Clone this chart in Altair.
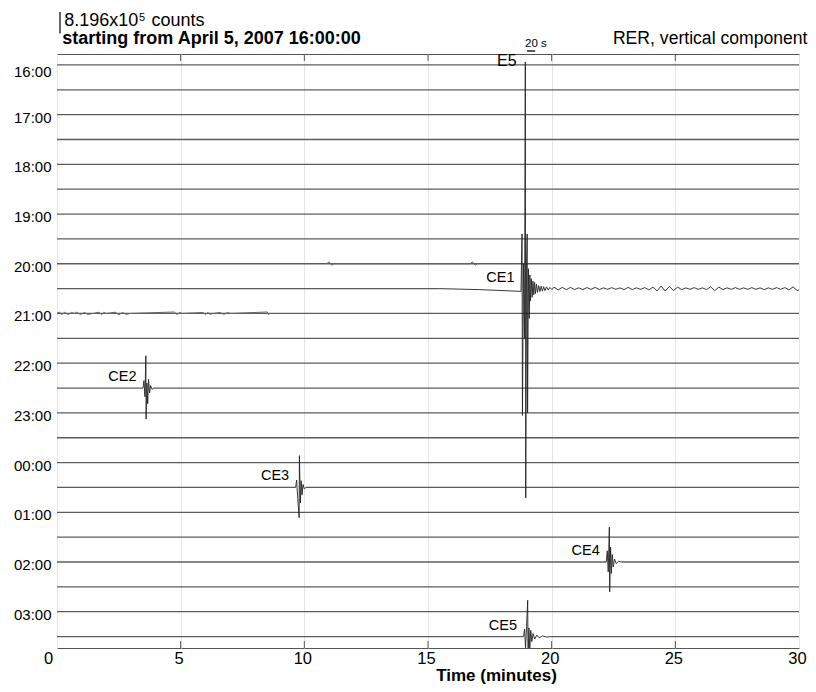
import json
import pandas as pd
import altair as alt

FONT = "Liberation Sans"

# ---------------- data ----------------
hour_labels = ["16:00", "17:00", "18:00", "19:00", "20:00", "21:00",
               "22:00", "23:00", "00:00", "01:00", "02:00", "03:00"]
row_count = 24                      # half-hour traces 16:00 ... 03:30
trace_start, trace_end = 0, 30      # minutes covered by each trace
x_tick_values = [0, 5, 10, 15, 20, 25, 30]
inner_ticks = [5, 10, 15, 20, 25]

event_names = ["CE1", "CE2", "CE3", "CE4", "CE5"]
event_rows = [9, 13, 17, 20, 23]
event_onsets = [18.76, 3.476, 9.648, 22.207, 18.864]   # minutes

# waveforms: seconds after onset, amplitude in trace spacings (+ = downward)
ce1_sec = [-200, -100, -1.5, 0, 2.5, 3.5, 6, 8.5, 10.5, 11.5, 13.5, 15, 16, 18,
           20, 21.5, 23, 25, 27, 29, 31, 33, 35, 37.5, 40, 43, 46, 49, 52, 55,
           58, 62, 66, 70, 75]
ce1_amp = [0, 0.04, 0.11, 0.12, -2.2, 5.1, -1.0, 2.0, -9.12, 8.42, -1.0, -2.2,
           5.0, -0.8, 1.2, -0.55, 0.5, -0.4, 0.35, -0.3, 0.25, -0.25, 0.2, -0.18,
           0.15, -0.12, 0.12, -0.1, 0.1, -0.08, 0.08, -0.07, 0.06, -0.05, 0.04]
ce1_coda_sec = list(range(80, 680, 10)) + [680]
ce1_coda_amp = [-0.06, 0.05, -0.05, 0.04, -0.05, 0.04, -0.03, 0.04, -0.04, 0.03,
                -0.05, 0.04, -0.03, 0.03, -0.04, 0.03, -0.03, 0.04, -0.05, 0.04,
                -0.03, 0.03, -0.04, 0.05, -0.06, 0.09, -0.10, 0.10, -0.09, 0.08,
                -0.06, 0.04, -0.03, 0.03, -0.04, 0.03, -0.03, 0.04, -0.07, 0.08,
                -0.06, 0.04, -0.03, 0.03, -0.04, 0.03, -0.03, 0.03, -0.04, 0.03,
                -0.03, 0.04, -0.03, 0.03, -0.04, 0.03, -0.04, 0.05, -0.07, 0.08,
                0.0]

ce2_sec = [0, 2.4, 4.8, 7, 7.6, 9.6, 11.5, 13.5, 16, 18.5, 22, 26]
ce2_amp = [0, -0.3, 0.35, -1.3, 1.25, -0.2, 0.63, -0.35, 0.2, -0.1, 0.05, 0]

ce3_sec = [0, 2.4, 4.8, 8.5, 9.2, 11.5, 13.5, 15.5, 18, 21, 25]
ce3_amp = [0, -0.3, 0.35, 1.22, -1.28, 0.62, -0.27, 0.3, -0.12, 0.06, 0]

ce4_sec = [0, 2.4, 4.8, 7.5, 8.3, 10.5, 12.5, 14.5, 17, 20, 24, 30, 38]
ce4_amp = [0, -0.45, 0.4, -1.4, 1.2, -0.6, 0.46, -0.3, 0.2, -0.12, 0.06, -0.03, 0]

ce5_sec = [0, 2.4, 4.8, 7.2, 10, 10.8, 13, 15, 17.5, 20, 23, 27, 32, 38, 46, 56, 66]
ce5_amp = [0, -0.3, 0.45, -0.4, -1.46, 1.0, -0.35, 0.5, -0.25, 0.2, -0.12, 0.1,
           -0.06, 0.05, -0.03, 0.02, 0]

# small background wiggles (row, minute, amplitude)
noise_row = [10] * 37 + [8] * 8
noise_t = [0.0, 0.1, 0.2, 0.3, 0.45, 0.6, 0.7, 0.8, 0.95, 1.1, 1.25, 1.45, 1.7,
           1.8, 1.9, 2.0, 2.35, 2.5, 2.65, 2.8, 2.95, 4.75, 4.85, 4.95, 5.05,
           5.9, 6.0, 6.1, 6.2, 6.3, 6.6, 6.75, 6.9, 7.0, 8.5, 8.55, 8.6,
           10.9, 11.0, 11.1, 11.2, 16.7, 16.8, 16.9, 17.0]
noise_amp = [0, -0.06, 0.05, -0.05, 0.04, -0.04, 0, -0.05, 0.05, -0.04, 0.04, 0,
             -0.05, 0.05, -0.04, 0, -0.05, 0.05, -0.04, 0.04, 0, -0.06, 0.05,
             -0.05, 0, -0.04, 0.04, -0.04, 0.04, 0, -0.04, 0.04, -0.04, 0, -0.06,
             0.05, 0,
             0, -0.08, 0.06, 0, 0, -0.08, 0.06, 0]

scale_bar_seconds = 20
scale_bar_start = 19.0   # minutes

# ---------------- tables built from the lists ----------------
waves = {
    "CE1": (ce1_sec + ce1_coda_sec, ce1_amp + ce1_coda_amp),
    "CE2": (ce2_sec, ce2_amp),
    "CE3": (ce3_sec, ce3_amp),
    "CE4": (ce4_sec, ce4_amp),
    "CE5": (ce5_sec, ce5_amp),
}
recs = []
extent = {}
for name, row, onset in zip(event_names, event_rows, event_onsets):
    secs, amps = waves[name]
    ts = [onset + s / 60.0 for s in secs]
    extent[row] = (min(ts), max(ts))
    for i, (t, a) in enumerate(zip(ts, amps)):
        recs.append({"event": name, "seq": i, "t": t, "y": row + a})
wave_df = pd.DataFrame(recs)

noise_df = pd.DataFrame({"row": noise_row, "t": noise_t,
                         "y": [r + a for r, a in zip(noise_row, noise_amp)],
                         "seq": list(range(len(noise_t)))})

# quiet baseline segments: the trace outside the drawn waveforms
segs = []
for r in range(row_count):
    if r in extent:
        a, b = extent[r]
        if a > trace_start:
            segs.append({"row": r, "t": trace_start, "t1": a})
        if b < trace_end:
            segs.append({"row": r, "t": b, "t1": trace_end})
    else:
        segs.append({"row": r, "t": trace_start, "t1": trace_end})
rows_df = pd.DataFrame(segs)

labels_df = pd.DataFrame({"event": event_names, "t": event_onsets, "row": event_rows})
ticks_df = pd.DataFrame({"t": inner_ticks})
bar_df = pd.DataFrame({"t": [scale_bar_start],
                       "t1": [scale_bar_start + scale_bar_seconds / 60.0]})

W, H = 742, 594

x_scale = alt.Scale(domain=[0, 30], nice=False, zero=False)
y_scale = alt.Scale(domain=[-0.44, 23.46], reverse=True, nice=False, zero=False)
x_axis = alt.Axis(values=x_tick_values, title="Time (minutes)", titleFontWeight="bold",
                  titleFontSize=17, titleX=439, titleY=32, titleAlign="center",
                  titleBaseline="alphabetic", labelFontSize=16.5, labelPadding=2,
                  labelOffset={"condition": {"test": "datum.value == 0", "value": -9},
                               "value": -2},
                  ticks=False, domain=False, grid=True, gridColor="#e6e6e6",
                  labelFlush=False)
y_axis = alt.Axis(values=list(range(0, 24, 2)),
                  labelExpr=json.dumps(hour_labels) + "[round(datum.value / 2)]",
                  title=None, ticks=False, tickSize=0, domain=False, grid=False,
                  labelFontSize=15, labelPadding=6,
                  labelOffset={"condition": {"test": "datum.value == 0", "value": 7},
                               "value": 2.5})


def X(f):
    return alt.X(f, type="quantitative", scale=x_scale, axis=x_axis)


def Y(f):
    return alt.Y(f, type="quantitative", scale=y_scale, axis=y_axis)


baselines = alt.Chart(rows_df).mark_rule(color="#5c5c5c", strokeWidth=1.3).encode(
    x=X("t"), x2="t1", y=Y("row"))

noise = alt.Chart(noise_df).mark_line(color="#666666", strokeWidth=1.0).encode(
    x=X("t"), y=Y("y"), detail="row:N", order="seq:Q")

traces = alt.Chart(wave_df).mark_line(color="#222222", strokeWidth=0.9, clip=True).encode(
    x=X("t"), y=Y("y"), detail="event:N", order="seq:Q")

ev_labels = alt.Chart(labels_df).mark_text(
    align="right", baseline="alphabetic", dx=-6.5, dy=-7, fontSize=14.5, font=FONT,
    color="black").encode(x=X("t"), y=Y("row"), text="event:N")

top_ticks = alt.Chart(ticks_df).mark_rule(color="#555", strokeWidth=1).encode(
    x=X("t"), y=alt.value(0), y2=alt.value(7))
bottom_ticks = alt.Chart(ticks_df).mark_rule(color="#555", strokeWidth=1).encode(
    x=X("t"), y=alt.value(H - 7), y2=alt.value(H))

sec_bar = alt.Chart(bar_df).mark_rule(color="black", strokeWidth=1.3).encode(
    x=X("t"), x2="t1", y=alt.value(-3))


def note(text, **kw):
    xpos = kw.pop("xpos")
    ypos = kw.pop("ypos")
    return alt.Chart(pd.DataFrame({"s": [text]})).mark_text(
        font=FONT, color="black", baseline="alphabetic", **kw).encode(
        x=alt.value(xpos), y=alt.value(ypos), text="s:N")


counts_bar = alt.Chart(pd.DataFrame({"s": [1]})).mark_rule(
    color="black", strokeWidth=1.2).encode(
    x=alt.value(3), y=alt.value(-42), y2=alt.value(-20.5))

notes = [
    note("8.196x10", xpos=7.3, ypos=-28, align="left", fontSize=18),
    note("5", xpos=82, ypos=-33.5, align="left", fontSize=11),
    note("counts", xpos=94.4, ypos=-28, align="left", fontSize=18),
    note("starting from April 5, 2007 16:00:00", xpos=5.3, ypos=-9.7, align="left",
         fontSize=18, fontWeight="bold"),
    note("RER, vertical component", xpos=750.5, ypos=-9.7, align="right", fontSize=17.6),
    note("20 s", xpos=468, ypos=-7.5, align="left", fontSize=11.5),
    note("E5", xpos=440, ypos=12, align="left", fontSize=16),
]

chart = alt.layer(
    baselines, noise, traces, ev_labels, top_ticks, bottom_ticks, sec_bar,
    counts_bar, *notes
).properties(
    width=W, height=H,
    autosize=alt.AutoSizeParams(type="none"),
    padding={"left": 49, "top": 46, "right": 9, "bottom": 36},
).configure_view(
    stroke="#555", strokeWidth=1
).configure_axis(
    labelFont=FONT, titleFont=FONT, labelColor="black", titleColor="black"
)

chart.save("out.html", embed_options={"renderer": "svg", "actions": False})
